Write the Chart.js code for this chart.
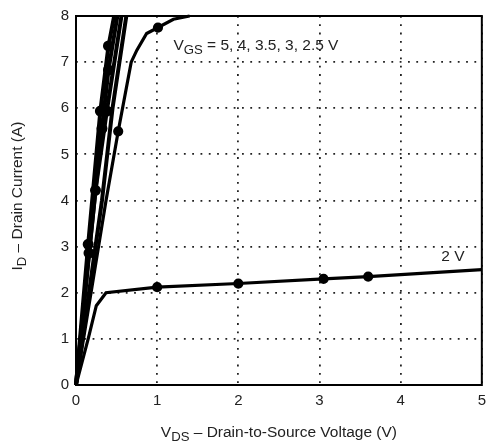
<!DOCTYPE html>
<html>
<head>
<meta charset="utf-8">
<script src="https://cdn.jsdelivr.net/npm/chart.js@4.4.1/dist/chart.umd.min.js"></script>
<style>
  html, body { margin: 0; padding: 0; background: #fff; }
  #wrap { width: 493px; height: 445px; }
</style>
</head>
<body>
<div id="wrap"><canvas id="chart"></canvas></div>
<script>
// Curvas I_D x V_DS
const vgsLabels = ['5 V', '4 V', '3.5 V', '3 V', '2.5 V', '2 V'];

const vds5 = [0, 0.15, 0.30, 0.40, 0.47];
const id5 = [0, 3.05, 5.94, 7.35, 8];
const dots5 = [1, 2, 3];

const vds4 = [0, 0.16, 0.32, 0.40, 0.51];
const id4 = [0, 2.86, 5.56, 6.83, 8];
const dots4 = [1, 2, 3];

const vds35 = [0, 0.24, 0.38, 0.56];
const id35 = [0, 4.22, 5.94, 8];
const dots35 = [1, 2];

const vds3 = [0, 0.32, 0.45, 0.62];
const id3 = [0, 4.0, 6.0, 8];
const dots3 = [];

const vds25 = [0, 0.37, 0.52, 0.68, 0.75, 0.87, 1.01, 1.2, 1.4];
const id25 = [0, 4.0, 5.5, 7.0, 7.26, 7.62, 7.75, 7.93, 8];
const dots25 = [2, 6];

const vds2 = [0, 0.15, 0.25, 0.37, 1.0, 2.0, 3.05, 3.6, 5];
const id2 = [0, 1.0, 1.72, 2.0, 2.12, 2.2, 2.3, 2.35, 2.5];
const dots2 = [4, 5, 6, 7];

const xTicks = [0, 1, 2, 3, 4, 5];
const yTicks = [0, 1, 2, 3, 4, 5, 6, 7, 8];

const FONT = '"Liberation Sans", Arial, sans-serif';

function makeSeries(label, xs, ys, dots, width) {
  return {
    label,
    data: xs.map((x, i) => ({ x, y: ys[i] })),
    borderColor: '#000',
    backgroundColor: '#000',
    borderWidth: width || 3.2,
    tension: 0,
    pointRadius: (ctx) => (dots.includes(ctx.dataIndex) ? 3.5 : 0),
    pointHoverRadius: 0,
    clip: 2,
  };
}

// texto com subscrito: parts = [[texto, ehSub], ...]
function drawParts(ctx, parts, x, y, size, align) {
  const subSize = size * 0.85;
  let total = 0;
  parts.forEach(([t, sub]) => {
    ctx.font = `${sub ? subSize : size}px ${FONT}`;
    total += ctx.measureText(t).width;
  });
  let cx = align === 'center' ? x - total / 2 : x;
  ctx.textAlign = 'left';
  ctx.textBaseline = 'alphabetic';
  parts.forEach(([t, sub]) => {
    ctx.font = `${sub ? subSize : size}px ${FONT}`;
    ctx.fillText(t, cx, sub ? y + 4 : y);
    cx += ctx.measureText(t).width;
  });
}

const framePlugin = {
  id: 'frame',
  afterDatasetsDraw(chart) {
    const { ctx, chartArea: a, scales } = chart;
    ctx.save();
    ctx.strokeStyle = '#000';
    ctx.lineWidth = 2;
    ctx.strokeRect(a.left, a.top, a.right - a.left, a.bottom - a.top);

    ctx.fillStyle = '#222';
    const xs = scales.x, ys = scales.y;
    drawParts(ctx, [['V', false], ['GS', true], [' = 5, 4, 3.5, 3, 2.5 V', false]],
      xs.getPixelForValue(1.2), ys.getPixelForValue(7.27), 15.5, 'left');
    drawParts(ctx, [['2 V', false]],
      xs.getPixelForValue(4.5), ys.getPixelForValue(2.68), 15.5, 'left');

    // títulos dos eixos
    drawParts(ctx, [['V', false], ['DS', true], [' – Drain-to-Source Voltage (V)', false]],
      (a.left + a.right) / 2, 437, 15.5, 'center');
    ctx.translate(22, 196);
    ctx.rotate(-Math.PI / 2);
    drawParts(ctx, [['I', false], ['D', true], [' – Drain Current (A)', false]],
      0, 0, 15.5, 'center');
    ctx.restore();
  },
};

const grid = {
  color: '#222',
  lineWidth: 1.8,
  drawTicks: false,
};
const border = { display: false, dash: [1.8, 6.5] };

new Chart(document.getElementById('chart'), {
  type: 'line',
  data: {
    datasets: [
      makeSeries(vgsLabels[0], vds5, id5, dots5, 4),
      makeSeries(vgsLabels[1], vds4, id4, dots4, 4),
      makeSeries(vgsLabels[2], vds35, id35, dots35, 4),
      makeSeries(vgsLabels[3], vds3, id3, dots3, 4),
      makeSeries(vgsLabels[4], vds25, id25, dots25),
      makeSeries(vgsLabels[5], vds2, id2, dots2),
    ],
  },
  options: {
    responsive: true,
    maintainAspectRatio: false,
    animation: false,
    layout: { padding: { left: 0, right: 3, top: 12, bottom: 0 } },
    plugins: {
      legend: { display: false },
      tooltip: { enabled: false },
    },
    scales: {
      x: {
        type: 'linear',
        min: 0,
        max: 5,
        afterBuildTicks: (s) => { s.ticks = xTicks.map((v) => ({ value: v })); },
        afterFit: (s) => { s.height = 60; },
        grid,
        border,
        ticks: { color: '#222', font: { family: FONT, size: 15 }, padding: 7, maxRotation: 0 },
      },
      y: {
        type: 'linear',
        min: 0,
        max: 8,
        afterBuildTicks: (s) => { s.ticks = yTicks.map((v) => ({ value: v })); },
        afterFit: (s) => { s.width = 76; },
        grid,
        border,
        ticks: { color: '#222', font: { family: FONT, size: 15 }, padding: 7 },
      },
    },
  },
  plugins: [framePlugin],
});
</script>
</body>
</html>
